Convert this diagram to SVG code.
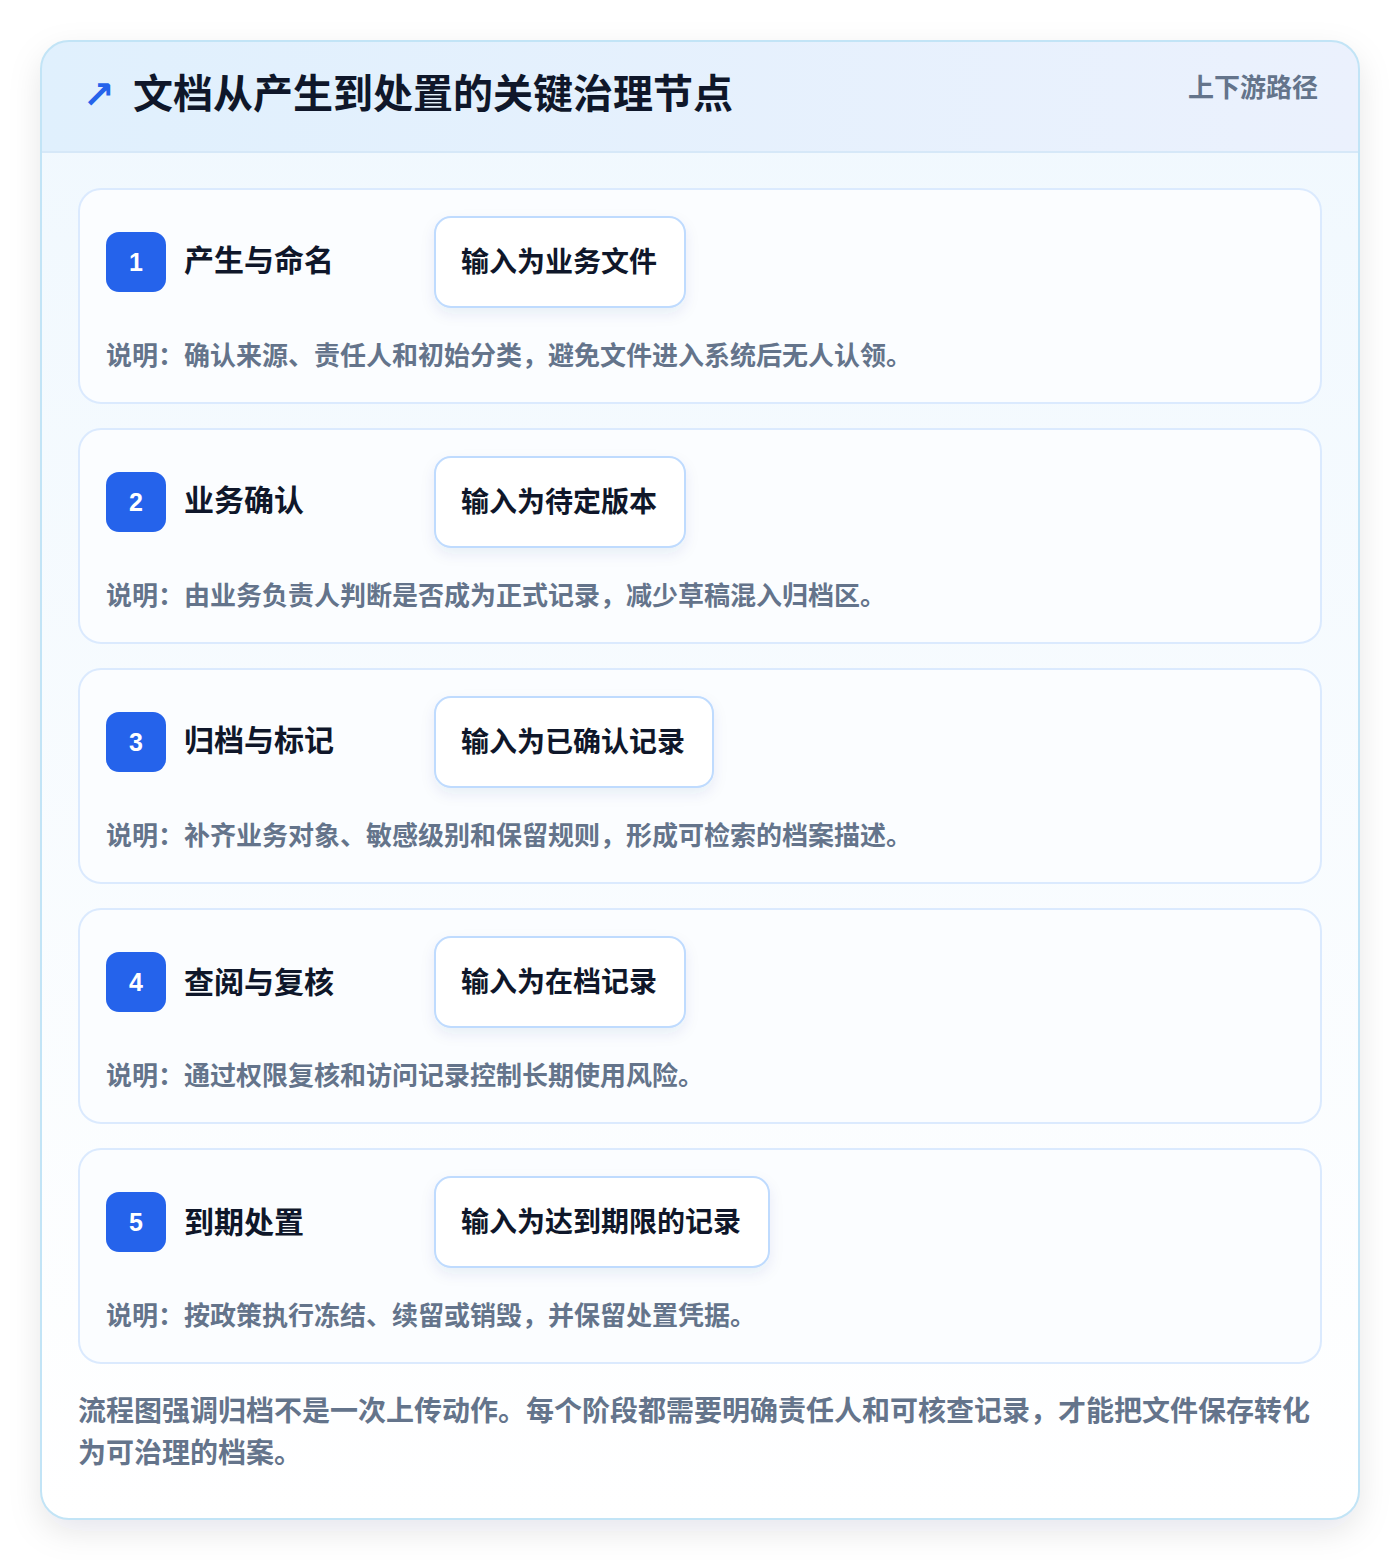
<svg xmlns="http://www.w3.org/2000/svg" width="1400" height="1560" viewBox="0 0 1400 1560">
  <defs>
    <linearGradient id="hdr" x1="0" y1="0" x2="1" y2="0">
      <stop offset="0" stop-color="#e0f0fd"/>
      <stop offset="1" stop-color="#ebf1fd"/>
    </linearGradient>
    <linearGradient id="body" x1="0" y1="0" x2="0" y2="1">
      <stop offset="0" stop-color="#f0f8fe"/>
      <stop offset="1" stop-color="#ffffff"/>
    </linearGradient>
    <filter id="outerShadow" x="-10%" y="-10%" width="120%" height="120%">
      <feDropShadow dx="0" dy="12" stdDeviation="16" flood-color="#0f172a" flood-opacity="0.10"/>
    </filter>
    <filter id="boxShadow" x="-20%" y="-30%" width="140%" height="170%">
      <feDropShadow dx="0" dy="6" stdDeviation="7" flood-color="#1e3a8a" flood-opacity="0.08"/>
    </filter>
    <clipPath id="cardClip">
      <rect x="41" y="41" width="1318" height="1478" rx="28"/>
    </clipPath>
    <style>
      .cjk { font-family: "Noto Sans CJK SC", "Noto Sans", "Liberation Sans", sans-serif; }
      .card { fill: #fbfdff; stroke: #dbeafe; stroke-width: 2; }
      .badge { fill: #2563eb; }
      .num { fill: #ffffff; font-family: "Liberation Sans", "Noto Sans", sans-serif; font-size: 25px; font-weight: 700; text-anchor: middle; }
      .stitle { fill: #0f172a; font-size: 30px; font-weight: 700; }
      .box { fill: #ffffff; stroke: #bfdbfe; stroke-width: 2; filter: url(#boxShadow); }
      .btext { fill: #0f172a; font-size: 28px; font-weight: 700; }
      .desc { fill: #64748b; font-size: 26px; font-weight: 700; }
      .foot { fill: #64748b; font-size: 28px; font-weight: 700; }
    </style>
  </defs>

  <rect width="1400" height="1560" fill="#ffffff"/>

  <g id="frame">
    <rect x="41" y="41" width="1318" height="1478" rx="28" fill="url(#body)" filter="url(#outerShadow)"/>
    <g clip-path="url(#cardClip)">
      <rect x="41" y="41" width="1318" height="111" fill="url(#hdr)"/>
      <line x1="41" y1="152" x2="1359" y2="152" stroke="#d6e8f8" stroke-width="2"/>
    </g>
    <rect x="41" y="41" width="1318" height="1478" rx="28" fill="none" stroke="#c2e4f6" stroke-width="2"/>
  </g>

  <g id="header" class="cjk">
    <text x="83" y="108" font-family="DejaVu Sans, sans-serif" font-size="38" font-weight="700" fill="#2563eb">↗</text>
    <text x="133" y="108" font-size="40" font-weight="700" fill="#0f172a">文档从产生到处置的关键治理节点</text>
    <text x="1318" y="97" font-size="26" font-weight="700" fill="#64748b" text-anchor="end">上下游路径</text>
  </g>

  <g id="connectors"></g>

  <g id="stage1" class="cjk">
    <rect class="card" x="79" y="189" width="1242" height="214" rx="22"/>
    <rect class="badge" x="106" y="232" width="60" height="60" rx="13"/>
    <text class="num" x="136" y="271">1</text>
    <text class="stitle" x="184" y="271">产生与命名</text>
    <rect class="box" x="435" y="217" width="250" height="90" rx="16"/>
    <text class="btext" x="461" y="272">输入为业务文件</text>
    <text class="desc" x="106" y="365">说明：确认来源、责任人和初始分类，避免文件进入系统后无人认领。</text>
  </g>

  <g id="stage2" class="cjk">
    <rect class="card" x="79" y="429" width="1242" height="214" rx="22"/>
    <rect class="badge" x="106" y="472" width="60" height="60" rx="13"/>
    <text class="num" x="136" y="511">2</text>
    <text class="stitle" x="184" y="511">业务确认</text>
    <rect class="box" x="435" y="457" width="250" height="90" rx="16"/>
    <text class="btext" x="461" y="512">输入为待定版本</text>
    <text class="desc" x="106" y="605">说明：由业务负责人判断是否成为正式记录，减少草稿混入归档区。</text>
  </g>

  <g id="stage3" class="cjk">
    <rect class="card" x="79" y="669" width="1242" height="214" rx="22"/>
    <rect class="badge" x="106" y="712" width="60" height="60" rx="13"/>
    <text class="num" x="136" y="751">3</text>
    <text class="stitle" x="184" y="751">归档与标记</text>
    <rect class="box" x="435" y="697" width="278" height="90" rx="16"/>
    <text class="btext" x="461" y="752">输入为已确认记录</text>
    <text class="desc" x="106" y="845">说明：补齐业务对象、敏感级别和保留规则，形成可检索的档案描述。</text>
  </g>

  <g id="stage4" class="cjk">
    <rect class="card" x="79" y="909" width="1242" height="214" rx="22"/>
    <rect class="badge" x="106" y="952" width="60" height="60" rx="13"/>
    <text class="num" x="136" y="991">4</text>
    <text class="stitle" x="184" y="993">查阅与复核</text>
    <rect class="box" x="435" y="937" width="250" height="90" rx="16"/>
    <text class="btext" x="461" y="992">输入为在档记录</text>
    <text class="desc" x="106" y="1085">说明：通过权限复核和访问记录控制长期使用风险。</text>
  </g>

  <g id="stage5" class="cjk">
    <rect class="card" x="79" y="1149" width="1242" height="214" rx="22"/>
    <rect class="badge" x="106" y="1192" width="60" height="60" rx="13"/>
    <text class="num" x="136" y="1231">5</text>
    <text class="stitle" x="184" y="1233">到期处置</text>
    <rect class="box" x="435" y="1177" width="334" height="90" rx="16"/>
    <text class="btext" x="461" y="1232">输入为达到期限的记录</text>
    <text class="desc" x="106" y="1325">说明：按政策执行冻结、续留或销毁，并保留处置凭据。</text>
  </g>

  <g id="footer" class="cjk">
    <text class="foot" x="78" y="1421">流程图强调归档不是一次上传动作。每个阶段都需要明确责任人和可核查记录，才能把文件保存转化</text>
    <text class="foot" x="78" y="1463">为可治理的档案。</text>
  </g>
</svg>
